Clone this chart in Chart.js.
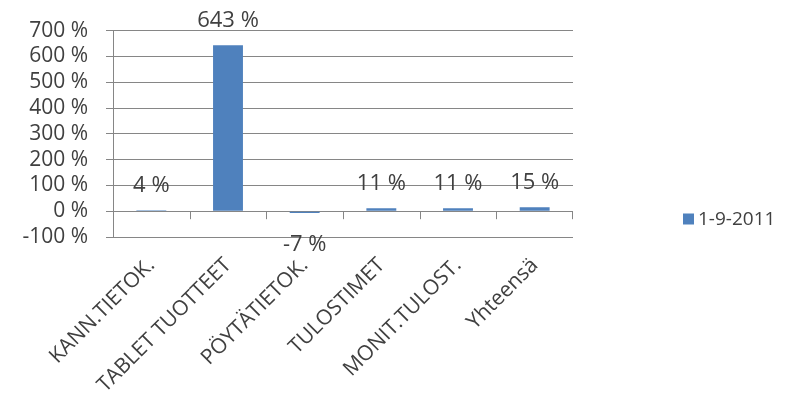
<!DOCTYPE html>
<html>
<head>
<meta charset="utf-8">
<script src="https://cdn.jsdelivr.net/npm/chart.js@4/dist/chart.umd.min.js"></script>
<style>
  html, body { margin: 0; padding: 0; background: #fff; }
  #wrap { width: 785px; height: 408px; position: relative; }
</style>
</head>
<body>
<div id="wrap"><canvas id="chart"></canvas></div>
<script>
// Tuoteryhmät ja muutos-%
const categories = ['KANN.TIETOK.', 'TABLET TUOTTEET', 'PÖYTÄTIETOK.', 'TULOSTIMET', 'MONIT.TULOST.', 'Yhteensä'];
const seriesName = '1-9-2011';
const changePct = [4, 643, -7, 11, 11, 15];
const yMin = -100;
const yMax = 700;
const yStep = 100;

const barColor = '#4F81BD';
const lineColor = '#868686';
const textColor = '#404040';
const fontFamily = '"Open Sans", "Liberation Sans", sans-serif';

// Arvot palkkien päälle
const valueLabels = {
    id: 'valueLabels',
    afterDatasetsDraw(chart) {
        const ctx = chart.ctx;
        const meta = chart.getDatasetMeta(0);
        ctx.save();
        ctx.fillStyle = textColor;
        ctx.font = '22px ' + fontFamily;
        ctx.textAlign = 'center';
        ctx.textBaseline = 'alphabetic';
        meta.data.forEach((bar, i) => {
            const v = changePct[i];
            const y = v >= 0 ? bar.y - 18 : bar.y + 38;
            ctx.fillText(v + ' %', bar.x, y);
        });
        ctx.restore();
    }
};

// Luokka-akselin väliviivat nollatasolla
const zeroTicks = {
    id: 'zeroTicks',
    afterDraw(chart) {
        const ctx = chart.ctx;
        const x = chart.scales.x;
        const y0 = chart.scales.y.getPixelForValue(0);
        ctx.save();
        ctx.strokeStyle = lineColor;
        ctx.lineWidth = 1;
        ctx.beginPath();
        for (let i = 0; i < categories.length; i++) {
            const px = i < categories.length - 1
                ? Math.round((x.getPixelForValue(i) + x.getPixelForValue(i + 1)) / 2) + 0.5
                : chart.chartArea.right - 0.5;
            ctx.moveTo(px, y0);
            ctx.lineTo(px, y0 + 8);
        }
        ctx.stroke();
        ctx.restore();
    }
};

// Selite oikealle
const sideLegend = {
    id: 'sideLegend',
    afterDraw(chart) {
        const ctx = chart.ctx;
        const ds = chart.data.datasets[0];
        const area = chart.chartArea;
        const bx = area.right + 110;
        const cy = area.bottom - 18;
        ctx.save();
        ctx.fillStyle = ds.backgroundColor;
        ctx.fillRect(bx, cy - 5.5, 11, 11);
        ctx.fillStyle = textColor;
        ctx.font = '19px ' + fontFamily;
        ctx.textAlign = 'left';
        ctx.textBaseline = 'middle';
        ctx.fillText(ds.label, bx + 15, cy + 1);
        ctx.restore();
    }
};

new Chart(document.getElementById('chart'), {
    type: 'bar',
    data: {
        labels: categories,
        datasets: [{
            label: seriesName,
            data: changePct,
            backgroundColor: barColor,
            borderWidth: 0,
            categoryPercentage: 1,
            barPercentage: 0.39
        }]
    },
    options: {
        responsive: true,
        maintainAspectRatio: false,
        animation: false,
        layout: { padding: { top: 29, right: 212, bottom: 0, left: 0 } },
        plugins: {
            legend: { display: false },
            tooltip: { enabled: false }
        },
        scales: {
            x: {
                grid: { display: false },
                border: { display: false },
                ticks: {
                    color: textColor,
                    font: { family: fontFamily, size: 21 },
                    minRotation: 45,
                    maxRotation: 45,
                    padding: 8,
                    autoSkip: false
                },
                afterFit: (scale) => { scale.height = 171; }
            },
            y: {
                min: yMin,
                max: yMax,
                ticks: {
                    stepSize: yStep,
                    autoSkip: false,
                    color: textColor,
                    font: { family: fontFamily, size: 21 },
                    padding: 18,
                    callback: (v) => v + ' %'
                },
                grid: { color: lineColor, tickLength: 7, tickColor: lineColor },
                border: { color: lineColor },
                afterFit: (scale) => { scale.width = 113; }
            }
        }
    },
    plugins: [valueLabels, zeroTicks, sideLegend]
});
</script>
</body>
</html>
